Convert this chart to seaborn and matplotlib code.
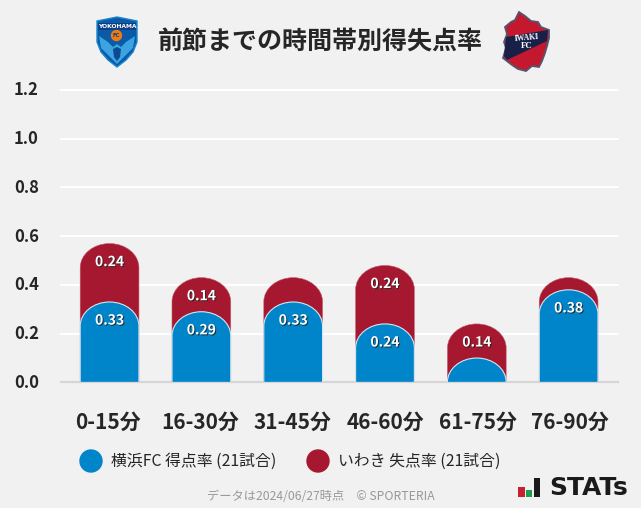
import pandas as pd
import seaborn as sns
import matplotlib
matplotlib.use('Agg')
import matplotlib.pyplot as plt
import matplotlib.patheffects as pe
from matplotlib.path import Path
from matplotlib.patches import PathPatch, Polygon, Ellipse, Rectangle
from matplotlib.transforms import ScaledTranslation

# Data
periods = ['0-15分', '16-30分', '31-45分', '46-60分', '61-75分', '76-90分']
yokohama_scored = [0.33, 0.29, 0.33, 0.24, 0.10, 0.38]
iwaki_conceded = [0.24, 0.14, 0.10, 0.24, 0.14, 0.05]
yokohama_labels = ['0.33', '0.29', '0.33', '0.24', '', '0.38']
iwaki_labels = ['0.24', '0.14', '', '0.24', '0.14', '']
y_ticks = [0.0, 0.2, 0.4, 0.6, 0.8, 1.0, 1.2]

title = '前節までの時間帯別得失点率'
legend_home = '横浜FC 得点率 (21試合)'
legend_away = 'いわき 失点率 (21試合)'
footer = 'データは2024/06/27時点　© SPORTERIA'

BLUE = '#0085cb'
RED = '#a5182f'
BG = '#f1f1f1'
W, H = 641, 508

sns.set_theme(style='whitegrid', rc={'figure.facecolor': BG, 'axes.facecolor': BG})
plt.rcParams['font.family'] = ['Noto Sans CJK JP', 'DejaVu Sans']

df = pd.DataFrame({'period': periods, 'home': yokohama_scored, 'away': iwaki_conceded})
df['total'] = df['home'] + df['away']

fig = plt.figure(figsize=(W / 100, H / 100), dpi=100)
ax = fig.add_axes([61 / W, (H - 382.4) / H, 557 / W, 292.4 / H])

# red goes behind at full height so the stack shows above the blue
sns.barplot(data=df, x='period', y='total', color=RED, saturation=1, width=0.64, errorbar=None, ax=ax)
sns.barplot(data=df, x='period', y='home', color=BLUE, saturation=1, width=0.64, errorbar=None, ax=ax)

# swap the square bar tops for domes
DOME = 24 / 243
for bar in list(ax.patches):
    x0, w, h = bar.get_x(), bar.get_width(), bar.get_height()
    is_blue = bar.get_facecolor()[2] > 0.5
    ry = min(DOME, h)
    k = 0.5523
    verts = [(x0, 0), (x0, h - ry),
             (x0, h - ry + k * ry), (x0 + w / 2 - k * w / 2, h), (x0 + w / 2, h),
             (x0 + w / 2 + k * w / 2, h), (x0 + w, h - ry + k * ry), (x0 + w, h - ry),
             (x0 + w, 0), (x0, 0)]
    codes = [Path.MOVETO, Path.LINETO, Path.CURVE4, Path.CURVE4, Path.CURVE4,
             Path.CURVE4, Path.CURVE4, Path.CURVE4, Path.LINETO, Path.CLOSEPOLY]
    ax.add_patch(PathPatch(Path(verts, codes), facecolor=bar.get_facecolor(),
                           edgecolor='#d5e6f0' if is_blue else '#c4606f',
                           lw=0.8 if is_blue else 0.4, zorder=3 if not is_blue else 4))
    bar.set_visible(False)

ax.set_xlim(-0.529, 5.538)
ax.set_ylim(0, 1.2)
ax.set_yticks(y_ticks)
ax.set_yticklabels([f'{v:.1f}' for v in y_ticks])
ax.set_xlabel('')
ax.set_ylabel('')
ax.grid(axis='x', visible=False)
ax.grid(axis='y', color='white', lw=1.5, clip_on=False)
ax.set_axisbelow(True)
sns.despine(ax=ax, left=True, top=True, right=True)
ax.spines['bottom'].set_color('#d6d6d6')
ax.spines['bottom'].set_linewidth(1.6)
ax.tick_params(axis='y', length=0, pad=16, labelsize=12, labelcolor='#262626')
ax.tick_params(axis='x', length=0, pad=21.5, labelsize=15, labelcolor='#262626')

# tick labels sit a little off the ticks in the original
for lab in ax.get_yticklabels():
    lab.set_fontweight('bold')
    lab.set_transform(lab.get_transform() + ScaledTranslation(0, 1.5 / 100, fig.dpi_scale_trans))
for i, lab in enumerate(ax.get_xticklabels()):
    lab.set_fontweight('bold')
    lab.set_transform(lab.get_transform() + ScaledTranslation(0.6 * (i - 2.9) / 100, 0, fig.dpi_scale_trans))

# value labels
shadow = [pe.withSimplePatchShadow(offset=(0.7, -0.7), shadow_rgbFace='#222222', alpha=0.9)]
for i in range(len(periods)):
    for top, lab in [(df['total'][i], iwaki_labels[i]), (df['home'][i], yokohama_labels[i])]:
        if lab:
            ax.annotate(lab, (i, top), xytext=(0, -13.4), textcoords='offset points', ha='center', va='center',
                        color='white', fontsize=10, fontweight='bold', path_effects=shadow, zorder=6)

# everything else sits on an overlay in pixel coordinates
ov = fig.add_axes([0, 0, 1, 1], facecolor='none')
ov.set_xlim(0, W)
ov.set_ylim(H, 0)
ov.axis('off')

ov.text(320.5, 42, title, ha='center', va='center', fontsize=18, fontweight='bold', color='#262626')

# legend
ov.add_patch(Ellipse((91, 461), 22, 22, color=BLUE))
ov.add_patch(Ellipse((318, 461), 22, 22, color=RED))
ov.text(111, 461.5, legend_home, va='center', fontsize=11.4, color='#262626')
ov.text(338, 461.5, legend_away, va='center', fontsize=11.4, color='#262626')

ov.text(321, 497, footer, ha='center', va='center', fontsize=8.8, color='#999999')

# STATs mark
ov.add_patch(Rectangle((518, 487), 6.5, 10, color='#c8202f', lw=0))
ov.add_patch(Rectangle((525.5, 490), 6.5, 7, color='#1e9e4a', lw=0))
ov.add_patch(Rectangle((534, 478), 6, 19, color='#1a1a1a', lw=0))
ov.text(549, 488, 'STATs', va='center', fontsize=18, fontweight='bold', color='#1a1a1a', family='DejaVu Sans')

# Yokohama FC crest
ov.add_patch(Polygon([(97, 21), (107, 19), (117, 17), (127, 19), (137, 21), (137, 42), (133, 52), (126, 60),
                      (117, 67), (108, 60), (101, 52), (97, 42)], closed=True, fc='#0a5aa8', ec='#1a86d0', lw=1))
ov.add_patch(Polygon([(98, 23), (136, 23), (136, 30), (98, 30)], closed=True, fc='#0c3f86', lw=0))
ov.text(117, 26.5, 'YOKOHAMA', ha='center', va='center', fontsize=4.3, fontweight='bold', color='white',
        family='DejaVu Sans')
ov.add_patch(Polygon([(99, 36), (108, 42), (113, 47), (117, 44), (121, 47), (126, 42), (135, 36), (133, 48),
                      (125, 56), (117, 64), (109, 56), (101, 48)], closed=True, fc='#3aa3e0', lw=0))
ov.add_patch(Polygon([(113, 49), (117, 47), (121, 49), (120, 57), (117, 61), (114, 57)], closed=True,
                     fc='#0c4a96', lw=0))
ov.add_patch(Ellipse((116.5, 35.5), 10, 10, color='#f07a10'))
ov.text(116.5, 35.5, 'FC', ha='center', va='center', fontsize=3.8, fontweight='bold', color='#0c3f86',
        family='DejaVu Sans')

# Iwaki FC crest
iwaki_shape = [(519, 12), (525, 16), (531, 21), (538, 22), (541, 27), (549, 30), (549, 38), (547, 46), (545, 53),
               (542, 61), (539, 67), (532, 66), (526, 71), (518, 69), (512, 65), (503, 58), (506, 48), (504, 42),
               (507, 34), (505, 27), (511, 22), (515, 20)]
ov.add_patch(Polygon(iwaki_shape, closed=True, fc='#c4182f', ec='#55556f', lw=1.3))
ov.add_patch(Polygon([(506, 37), (548, 30), (547, 41), (507, 60), (504, 56)], closed=True, fc='#182048', lw=0))
ov.text(527, 37.5, 'IWAKI', ha='center', va='center', fontsize=5.6, fontweight='bold', color='white',
        family='Liberation Serif', rotation=5)
ov.text(527, 46, 'FC', ha='center', va='center', fontsize=6.4, fontweight='bold', color='white',
        family='Liberation Serif')

plt.savefig('out.png', dpi=100, facecolor=BG)
